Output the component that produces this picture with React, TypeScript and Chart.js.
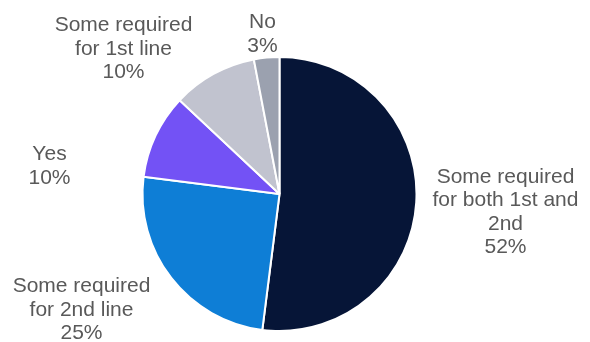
import React, { useEffect, useRef } from "react";
import { Chart, registerables } from "chart.js";

Chart.register(...registerables);

const categories = [
  ["Some required", "for both 1st and", "2nd"],
  ["Some required", "for 2nd line"],
  ["Yes"],
  ["Some required", "for 1st line"],
  ["No"],
];
const values = [52, 25, 10, 10, 3];
const colors = ["#061537", "#0E7ED6", "#7352F5", "#C1C3CF", "#9BA1AF"];
// label block centre offsets relative to the pie centre (layout)
const labelOffsets = [
  [226, 18],
  [-198, 116],
  [-230, -28],
  [-156, -145],
  [-17, -160],
];

const labelPlugin = {
  id: "outsideLabels",
  afterDraw(chart: any) {
    const ctx = chart.ctx;
    const meta = chart.getDatasetMeta(0);
    const data = chart.data.datasets[0].data as number[];
    const total = data.reduce((a: number, b: number) => a + b, 0);
    ctx.save();
    ctx.font = '21px "Liberation Sans", Arial, sans-serif';
    ctx.fillStyle = "#595959";
    ctx.textAlign = "center";
    ctx.textBaseline = "middle";
    const lh = 23.5;
    meta.data.forEach((arc: any, i: number) => {
      const lines = [...categories[i], Math.round((data[i] / total) * 100) + "%"];
      const cx = arc.x + labelOffsets[i][0];
      const cy = arc.y + labelOffsets[i][1];
      const startY = cy - ((lines.length - 1) * lh) / 2;
      lines.forEach((t, k) => ctx.fillText(t, cx, startY + k * lh));
    });
    ctx.restore();
  },
};

export default function App() {
  const ref = useRef<HTMLCanvasElement>(null);
  useEffect(() => {
    const chart = new Chart(ref.current!, {
      type: "pie",
      data: {
        labels: categories.map((c) => c.join(" ")),
        datasets: [
          {
            data: values,
            backgroundColor: colors,
            borderColor: "#ffffff",
            borderWidth: 2,
          },
        ],
      },
      options: {
        animation: false,
        responsive: false,
        maintainAspectRatio: false,
        radius: 137,
        layout: { padding: { top: 57, bottom: 11, left: 0, right: 31 } },
        plugins: {
          legend: { display: false },
          tooltip: { enabled: false },
        },
      },
      plugins: [labelPlugin],
    });
    return () => chart.destroy();
  }, []);
  return (
    <div style={{ position: "fixed", left: 0, top: 0, width: 590, height: 342, background: "#fff" }}>
      <canvas ref={ref} width={590} height={342} style={{ width: 590, height: 342 }} />
    </div>
  );
}
